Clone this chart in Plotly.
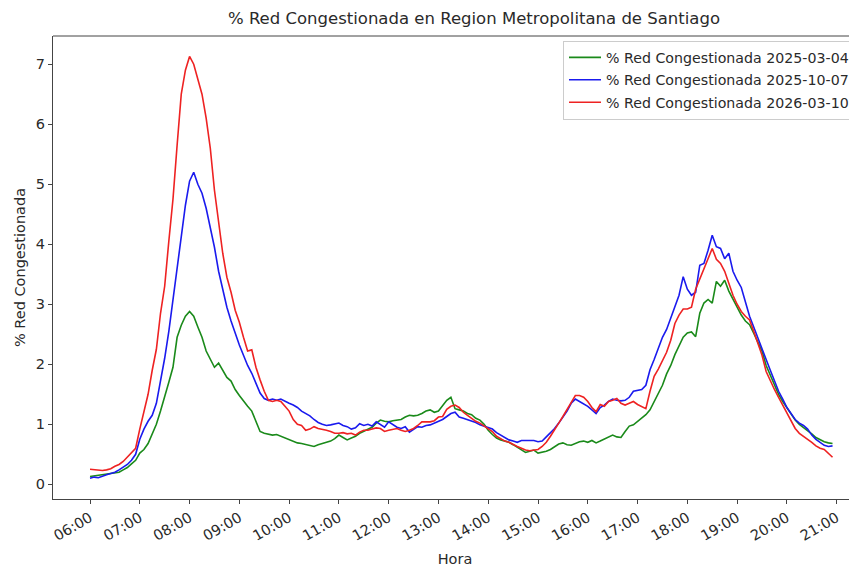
import pandas as pd
import plotly.graph_objects as go

# 5-minute samples from 06:00 to 20:55
times = pd.date_range("2025-03-04 06:00", periods=180, freq="5min")

serie_2025_03_04 = [
    0.13, 0.14, 0.15, 0.16, 0.17, 0.18, 0.19, 0.20, 0.24, 0.28, 0.34, 0.40,
    0.52, 0.58, 0.68, 0.85, 1.00, 1.22, 1.48, 1.70, 1.95, 2.45, 2.65, 2.80,
    2.88, 2.80, 2.62, 2.45, 2.22, 2.08, 1.95, 2.02, 1.90, 1.78, 1.72, 1.58,
    1.48, 1.38, 1.30, 1.22, 1.05, 0.88, 0.85, 0.84, 0.82, 0.83, 0.80, 0.78,
    0.74, 0.71, 0.69, 0.68, 0.66, 0.64, 0.63, 0.66, 0.68, 0.70, 0.72, 0.76,
    0.82, 0.78, 0.74, 0.77, 0.80, 0.85, 0.88, 0.92, 0.95, 1.02, 1.07, 1.05,
    1.04, 1.06, 1.07, 1.08, 1.12, 1.15, 1.14, 1.15, 1.18, 1.22, 1.24, 1.20,
    1.22, 1.32, 1.40, 1.45, 1.26, 1.24, 1.22, 1.18, 1.16, 1.10, 1.07, 1.00,
    0.90, 0.83, 0.77, 0.74, 0.72, 0.70, 0.66, 0.62, 0.58, 0.53, 0.55, 0.57,
    0.52, 0.53, 0.55, 0.58, 0.63, 0.67, 0.69, 0.66, 0.65, 0.68, 0.71, 0.72,
    0.70, 0.73, 0.69, 0.72, 0.75, 0.78, 0.82, 0.79, 0.78, 0.88, 0.97, 0.99,
    1.05, 1.10, 1.16, 1.24, 1.38, 1.52, 1.65, 1.84, 1.98, 2.16, 2.30, 2.45,
    2.52, 2.54, 2.46, 2.85, 3.02, 3.08, 3.02, 3.38, 3.30, 3.40, 3.22, 3.08,
    2.95, 2.82, 2.72, 2.66, 2.52, 2.38, 2.22, 1.98, 1.82, 1.66, 1.50, 1.38,
    1.27, 1.16, 1.07, 1.00, 0.95, 0.90, 0.84, 0.78, 0.74, 0.71, 0.69, 0.68,
]

serie_2025_10_07 = [
    0.10, 0.12, 0.11, 0.14, 0.16, 0.18, 0.20, 0.24, 0.28, 0.33, 0.40, 0.50,
    0.75, 0.92, 1.05, 1.15, 1.35, 1.70, 2.10, 2.55, 3.10, 3.65, 4.20, 4.65,
    5.05, 5.20, 5.00, 4.85, 4.60, 4.30, 3.95, 3.55, 3.25, 2.95, 2.72, 2.50,
    2.32, 2.15, 1.98, 1.85, 1.68, 1.52, 1.43, 1.40, 1.42, 1.40, 1.42, 1.38,
    1.35, 1.32, 1.28, 1.22, 1.18, 1.14, 1.08, 1.03, 1.00, 0.98, 0.99, 1.00,
    1.02, 0.98, 0.96, 0.92, 0.94, 1.01, 0.98, 1.00, 0.97, 1.04, 1.00, 0.95,
    1.04, 1.00, 0.95, 0.93, 0.96, 0.87, 0.92, 0.96, 0.95, 0.98, 0.99, 1.02,
    1.04, 1.08, 1.13, 1.18, 1.20, 1.12, 1.10, 1.08, 1.06, 1.03, 0.99, 0.97,
    0.94, 0.92, 0.86, 0.82, 0.78, 0.74, 0.72, 0.70, 0.73, 0.73, 0.72, 0.73,
    0.71, 0.72, 0.79, 0.86, 0.93, 1.02, 1.12, 1.22, 1.35, 1.42, 1.38, 1.34,
    1.30, 1.24, 1.18, 1.28, 1.32, 1.38, 1.42, 1.40, 1.39, 1.40, 1.45, 1.55,
    1.56, 1.58, 1.65, 1.91, 2.08, 2.25, 2.45, 2.58, 2.76, 2.95, 3.15, 3.46,
    3.25, 3.15, 3.20, 3.65, 3.68, 3.90, 4.15, 3.96, 3.93, 3.76, 3.85, 3.55,
    3.40, 3.28, 3.02, 2.80, 2.62, 2.45, 2.28, 2.08, 1.90, 1.72, 1.55, 1.42,
    1.28, 1.18, 1.08, 1.02, 0.98, 0.92, 0.82, 0.75, 0.70, 0.65, 0.63, 0.64,
]

serie_2026_03_10 = [
    0.25, 0.24, 0.24, 0.23, 0.24, 0.26, 0.30, 0.33, 0.38, 0.45, 0.52, 0.60,
    0.92, 1.22, 1.50, 1.90, 2.25, 2.85, 3.30, 4.05, 4.75, 5.65, 6.50, 6.90,
    7.13, 7.00, 6.75, 6.50, 6.10, 5.60, 4.90, 4.35, 3.85, 3.45, 3.20, 2.90,
    2.70, 2.45, 2.22, 2.24, 1.95, 1.74, 1.55, 1.40, 1.38, 1.40, 1.38, 1.30,
    1.22, 1.08, 1.00, 0.98, 0.90, 0.92, 0.96, 0.93, 0.92, 0.90, 0.88, 0.85,
    0.85, 0.86, 0.84, 0.85, 0.82, 0.87, 0.90, 0.90, 0.92, 0.94, 0.93, 0.88,
    0.90, 0.92, 0.93, 0.90, 0.88, 0.90, 0.93, 0.98, 1.04, 1.04, 1.04, 1.06,
    1.12, 1.13, 1.25, 1.30, 1.32, 1.28, 1.20, 1.15, 1.10, 1.05, 1.02, 0.97,
    0.93, 0.88, 0.80, 0.76, 0.72, 0.70, 0.66, 0.63, 0.60, 0.57, 0.56, 0.57,
    0.58, 0.63, 0.70, 0.80, 0.90, 1.02, 1.13, 1.25, 1.38, 1.48, 1.48, 1.45,
    1.38, 1.28, 1.21, 1.33, 1.30, 1.38, 1.40, 1.43, 1.35, 1.32, 1.35, 1.38,
    1.33, 1.30, 1.26, 1.55, 1.80, 1.92, 2.05, 2.20, 2.40, 2.68, 2.82, 2.92,
    2.92, 2.95, 3.25, 3.42, 3.60, 3.78, 3.93, 3.75, 3.68, 3.55, 3.35, 3.15,
    3.00, 2.88, 2.80, 2.74, 2.55, 2.35, 2.15, 1.88, 1.72, 1.58, 1.45, 1.32,
    1.18, 1.05, 0.93, 0.85, 0.80, 0.76, 0.70, 0.64, 0.60, 0.58, 0.52, 0.45,
]

series_names = [
    "% Red Congestionada 2025-03-04",
    "% Red Congestionada 2025-10-07",
    "% Red Congestionada 2026-03-10",
]
series_values = [serie_2025_03_04, serie_2025_10_07, serie_2026_03_10]
series_colors = ["#1a8a1a", "#1a1aee", "#ee2222"]

tick_labels = ["06:00", "07:00", "08:00", "09:00", "10:00", "11:00", "12:00", "13:00",
               "14:00", "15:00", "16:00", "17:00", "18:00", "19:00", "20:00", "21:00"]
tick_vals = [pd.Timestamp("2025-03-04 " + t) for t in tick_labels]

FONT = "DejaVu Sans"
TXT = "#2a2a2a"
# page body has an 8px margin; the figure is sized so its plot area ends at the window edge
W, H = 849, 559
fig = go.Figure()
for k, (name, vals, col) in enumerate(zip(series_names, series_values, series_colors)):
    fig.add_trace(go.Scatter(x=times, y=vals, mode="lines", name=name, legendgroup=f"g{k}",
                             line=dict(color=col, width=1.6)))

fig.update_layout(
    width=W, height=H,
    margin=dict(l=45, r=0, t=28, b=68),
    paper_bgcolor="white", plot_bgcolor="white",
    font=dict(family=FONT, size=14.5, color=TXT),
    title=dict(text="% Red Congestionada en Region Metropolitana de Santiago",
               x=466 / W, xanchor="center", y=1 - 10 / H, yanchor="middle",
               font=dict(family=FONT, size=16.5, color=TXT)),
    showlegend=True,
    legend=dict(x=(563 - 53) / 804, xanchor="left", y=0.99, yanchor="top",
                bgcolor="white", bordercolor="#cccccc", borderwidth=1,
                font=dict(family=FONT, size=14.2, color=TXT),
                itemwidth=32, tracegroupgap=1),
    shapes=[dict(type="line", xref="paper", yref="paper", x0=0, x1=1, y0=1, y1=1,
                 line=dict(color="#444", width=1))],
)

fig.update_xaxes(
    type="date",
    range=[pd.Timestamp("2025-03-04 05:15:24"), pd.Timestamp("2025-03-04 21:24:30")],
    tickvals=tick_vals, ticktext=tick_labels, tickangle=-30,
    ticks="outside", ticklen=4, tickcolor="#444",
    showline=True, linecolor="#444", linewidth=1,
    showgrid=False, zeroline=False,
    title=dict(text="Hora", standoff=11, font=dict(family=FONT, size=14.5, color=TXT)),
    tickfont=dict(family=FONT, size=14.5, color=TXT),
)
fig.update_yaxes(
    range=[-0.245, 7.47],
    tickvals=[0, 1, 2, 3, 4, 5, 6, 7],
    ticks="outside", ticklen=4, tickcolor="#444",
    showline=True, linecolor="#444", linewidth=1,
    showgrid=False, zeroline=False,
    title=dict(text="% Red Congestionada", standoff=6,
               font=dict(family=FONT, size=14.5, color=TXT)),
    tickfont=dict(family=FONT, size=14.5, color=TXT),
)

fig.write_html("out.html")
